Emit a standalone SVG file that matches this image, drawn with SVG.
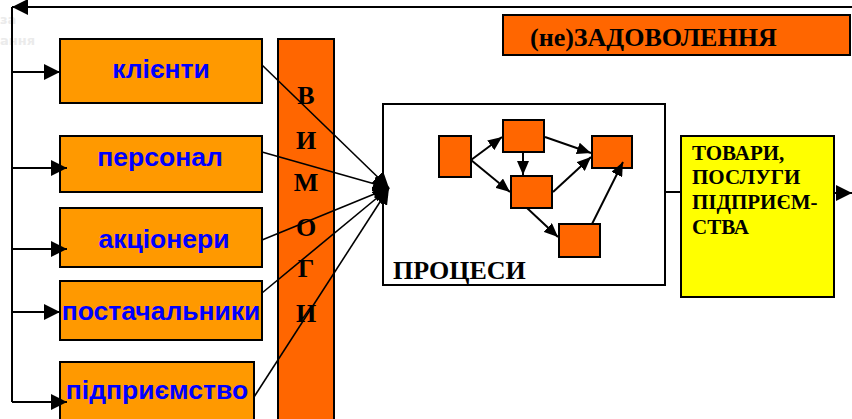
<svg xmlns="http://www.w3.org/2000/svg" width="852" height="419" viewBox="0 0 852 419">
<defs>
<style>
.src rect{fill:#FF9900;stroke:#000;stroke-width:2}
.src text{font-family:"Liberation Sans",Arial,sans-serif;font-weight:bold;font-size:26.5px;fill:#0000FF;text-anchor:middle}
.or{fill:#FF6600;stroke:#000;stroke-width:2}
.tm{font-family:"Liberation Serif","Times New Roman",serif;font-weight:bold;fill:#000}
.ln{stroke:#000;stroke-width:2;fill:none}
.lt{stroke:#000;stroke-width:1.6;fill:none}
.sm{stroke:#000;stroke-width:2;fill:none}
</style>
<marker id="ah" viewBox="0 0 16 16" refX="16" refY="8" markerWidth="16" markerHeight="16" markerUnits="userSpaceOnUse" orient="auto"><path d="M0,0 L16,8 L0,16 Z" fill="#000"/></marker>
<marker id="as" viewBox="0 0 14 12" refX="14" refY="6" markerWidth="14" markerHeight="12" markerUnits="userSpaceOnUse" orient="auto"><path d="M0,0 L14,6 L0,12 Z" fill="#000"/></marker>
</defs>
<rect width="852" height="419" fill="#fff"/>
<g id="watermark" font-family="'DejaVu Sans',sans-serif" font-weight="bold" font-size="13" fill="#ebebeb">
<text x="0" y="24">за</text>
<text x="0" y="45">ання</text>
</g>
<g id="satisfaction"><rect class="or" x="503" y="15" width="347" height="40"/><text class="tm" x="530" y="46" font-size="26">(не)ЗАДОВОЛЕННЯ</text></g>
<g id="clients" class="src"><rect x="60" y="39" width="202" height="64"/><text x="161" y="78">клієнти</text></g>
<g id="staff" class="src"><rect x="60" y="136" width="202" height="56"/><text x="160" y="166">персонал</text></g>
<g id="shareholders" class="src"><rect x="60" y="208" width="202" height="59"/><text x="164" y="248">акціонери</text></g>
<g id="suppliers" class="src"><rect x="60" y="281" width="202" height="59"/><text x="161" y="320">постачальники</text></g>
<g id="enterprise" class="src"><rect x="60" y="362" width="194" height="70"/><text x="157" y="399">підприємство</text></g>
<g id="requirements"><rect class="or" x="278" y="39" width="56" height="390"/>
<g class="tm" font-size="26" text-anchor="middle">
<text x="306" y="104">В</text><text x="306" y="149">И</text><text x="306" y="191">М</text><text x="306" y="236">О</text><text x="306" y="277">Г</text><text x="306" y="322">И</text>
</g></g>
<g id="processes"><rect x="383" y="104" width="282" height="181" fill="#fff" stroke="#000" stroke-width="2"/>
<text class="tm" x="393" y="279" font-size="26">ПРОЦЕСИ</text>
<g class="or" stroke-width="1.5">
<rect x="439" y="136" width="32" height="41"/>
<rect x="503" y="120" width="41" height="32"/>
<rect x="511" y="176" width="41" height="32"/>
<rect x="592" y="136" width="40" height="32"/>
<rect x="559" y="224" width="41" height="33"/>
</g>
<g class="sm">
<line x1="471" y1="160" x2="502" y2="137" marker-end="url(#as)"/>
<line x1="471" y1="160" x2="510" y2="192" marker-end="url(#as)"/>
<line x1="523" y1="152" x2="523" y2="175" marker-end="url(#as)"/>
<line x1="545" y1="137" x2="591" y2="153" marker-end="url(#as)"/>
<line x1="553" y1="192" x2="591" y2="157" marker-end="url(#as)"/>
<line x1="527" y1="208" x2="558" y2="237" marker-end="url(#as)"/>
<line x1="592" y1="224" x2="623" y2="162" marker-end="url(#as)"/>
</g></g>
<g id="products"><rect x="681" y="136" width="153" height="161" fill="#FFFF00" stroke="#000" stroke-width="2"/>
<g class="tm" font-size="21"><text x="692" y="160">ТОВАРИ,</text><text x="692" y="184">ПОСЛУГИ</text><text x="692" y="209">ПІДПРИЄМ-</text><text x="692" y="234">СТВА</text></g></g>
<g id="connectors">
<polyline class="ln" points="852,7 12,7" marker-end="url(#ah)"/>
<polyline class="ln" points="12,7 12,402"/>
<line class="ln" x1="12" y1="72" x2="60" y2="72" marker-end="url(#ah)"/>
<line class="ln" x1="12" y1="168" x2="67" y2="168" marker-end="url(#ah)"/>
<line class="ln" x1="12" y1="249" x2="67" y2="249" marker-end="url(#ah)"/>
<line class="ln" x1="12" y1="312" x2="60" y2="312" marker-end="url(#ah)"/>
<line class="ln" x1="12" y1="402" x2="67" y2="402" marker-end="url(#ah)"/>
<line class="lt" x1="262" y1="65" x2="389" y2="188" marker-end="url(#ah)"/>
<line class="lt" x1="262" y1="152" x2="389" y2="188" marker-end="url(#ah)"/>
<line class="lt" x1="262" y1="240" x2="389" y2="188" marker-end="url(#ah)"/>
<line class="lt" x1="262" y1="293" x2="389" y2="188" marker-end="url(#ah)"/>
<line class="lt" x1="254" y1="397" x2="389" y2="188" marker-end="url(#ah)"/>
<line class="ln" x1="665" y1="192" x2="681" y2="192"/>
<line class="ln" x1="834" y1="193" x2="852" y2="193" marker-end="url(#ah)"/>
</g>
</svg>
